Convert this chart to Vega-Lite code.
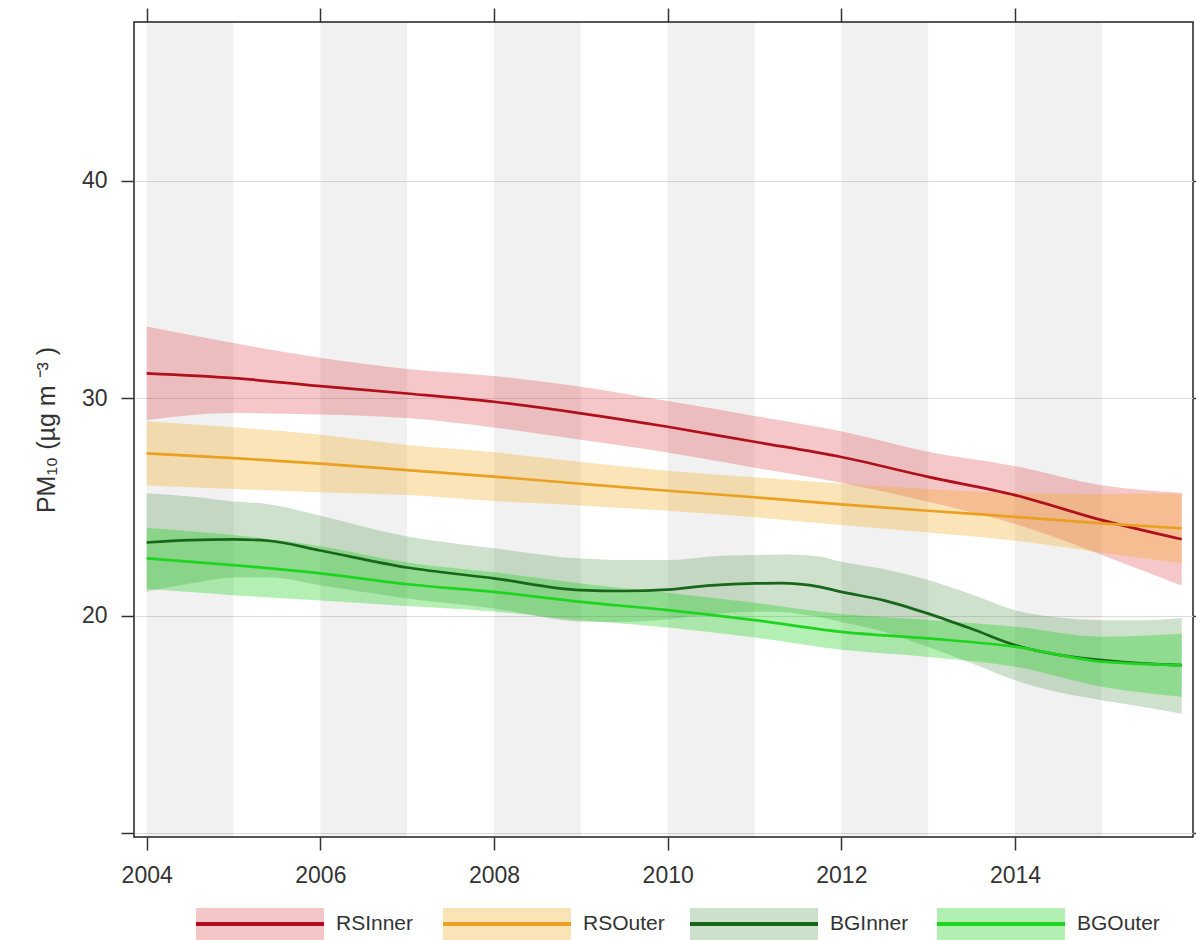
{
  "$schema": "https://vega.github.io/schema/vega-lite/v6.json",
  "width": 1059,
  "height": 815,
  "autosize": {"type": "none"},
  "padding": {"left": 134, "top": 22, "right": 3, "bottom": 103},
  "background": "white",
  "config": {
    "view": {"stroke": "#222222", "strokeWidth": 1.5},
    "font": "Liberation Sans",
    "axis": {"labelFont": "Liberation Sans", "titleFont": "Liberation Sans", "labelColor": "#333333", "titleColor": "#333333"},
    "legend": {"labelFont": "Liberation Sans"}
  },
  "datasets": {
    "bands": [
      {"start": 2004, "end": 2005},
      {"start": 2006, "end": 2007},
      {"start": 2008, "end": 2009},
      {"start": 2010, "end": 2011},
      {"start": 2012, "end": 2013},
      {"start": 2014, "end": 2015}
    ],
    "trend": [
      {"s": "RSInner", "year": 2004, "y": 31.15, "lo": 29.00, "hi": 33.30},
      {"s": "RSInner", "year": 2005, "y": 30.93, "lo": 29.32, "hi": 32.54},
      {"s": "RSInner", "year": 2006, "y": 30.56, "lo": 29.26, "hi": 31.86},
      {"s": "RSInner", "year": 2007, "y": 30.22, "lo": 29.09, "hi": 31.35},
      {"s": "RSInner", "year": 2008, "y": 29.84, "lo": 28.66, "hi": 31.02},
      {"s": "RSInner", "year": 2009, "y": 29.31, "lo": 28.09, "hi": 30.53},
      {"s": "RSInner", "year": 2010, "y": 28.69, "lo": 27.51, "hi": 29.87},
      {"s": "RSInner", "year": 2011, "y": 28.00, "lo": 26.81, "hi": 29.19},
      {"s": "RSInner", "year": 2012, "y": 27.30, "lo": 26.12, "hi": 28.48},
      {"s": "RSInner", "year": 2013, "y": 26.39, "lo": 25.24, "hi": 27.54},
      {"s": "RSInner", "year": 2014, "y": 25.55, "lo": 24.22, "hi": 26.88},
      {"s": "RSInner", "year": 2015, "y": 24.40, "lo": 22.80, "hi": 26.00},
      {"s": "RSInner", "year": 2015.92, "y": 23.52, "lo": 21.39, "hi": 25.65},

      {"s": "RSOuter", "year": 2004, "y": 27.47, "lo": 25.99, "hi": 28.95},
      {"s": "RSOuter", "year": 2005, "y": 27.25, "lo": 25.83, "hi": 28.67},
      {"s": "RSOuter", "year": 2006, "y": 27.00, "lo": 25.68, "hi": 28.32},
      {"s": "RSOuter", "year": 2007, "y": 26.70, "lo": 25.55, "hi": 27.85},
      {"s": "RSOuter", "year": 2008, "y": 26.40, "lo": 25.28, "hi": 27.52},
      {"s": "RSOuter", "year": 2009, "y": 26.07, "lo": 25.07, "hi": 27.07},
      {"s": "RSOuter", "year": 2010, "y": 25.75, "lo": 24.83, "hi": 26.67},
      {"s": "RSOuter", "year": 2011, "y": 25.45, "lo": 24.53, "hi": 26.37},
      {"s": "RSOuter", "year": 2012, "y": 25.12, "lo": 24.17, "hi": 26.07},
      {"s": "RSOuter", "year": 2013, "y": 24.83, "lo": 23.83, "hi": 25.83},
      {"s": "RSOuter", "year": 2014, "y": 24.55, "lo": 23.45, "hi": 25.65},
      {"s": "RSOuter", "year": 2015, "y": 24.25, "lo": 22.90, "hi": 25.60},
      {"s": "RSOuter", "year": 2015.92, "y": 24.02, "lo": 22.42, "hi": 25.62},

      {"s": "BGInner", "year": 2004, "y": 23.37, "lo": 21.11, "hi": 25.63},
      {"s": "BGInner", "year": 2004.5, "y": 23.48, "lo": 21.48, "hi": 25.48},
      {"s": "BGInner", "year": 2005, "y": 23.51, "lo": 21.76, "hi": 25.26},
      {"s": "BGInner", "year": 2005.4, "y": 23.45, "lo": 21.77, "hi": 25.13},
      {"s": "BGInner", "year": 2006, "y": 23.00, "lo": 21.40, "hi": 24.60},
      {"s": "BGInner", "year": 2007, "y": 22.22, "lo": 20.80, "hi": 23.64},
      {"s": "BGInner", "year": 2008, "y": 21.72, "lo": 20.34, "hi": 23.10},
      {"s": "BGInner", "year": 2009, "y": 21.18, "lo": 19.73, "hi": 22.63},
      {"s": "BGInner", "year": 2009.5, "y": 21.14, "lo": 19.72, "hi": 22.56},
      {"s": "BGInner", "year": 2010, "y": 21.20, "lo": 19.84, "hi": 22.56},
      {"s": "BGInner", "year": 2010.5, "y": 21.40, "lo": 20.07, "hi": 22.73},
      {"s": "BGInner", "year": 2011, "y": 21.49, "lo": 20.19, "hi": 22.79},
      {"s": "BGInner", "year": 2011.3, "y": 21.50, "lo": 20.18, "hi": 22.82},
      {"s": "BGInner", "year": 2011.75, "y": 21.33, "lo": 19.93, "hi": 22.73},
      {"s": "BGInner", "year": 2012, "y": 21.10, "lo": 19.72, "hi": 22.48},
      {"s": "BGInner", "year": 2012.5, "y": 20.70, "lo": 19.26, "hi": 22.14},
      {"s": "BGInner", "year": 2013, "y": 20.10, "lo": 18.56, "hi": 21.64},
      {"s": "BGInner", "year": 2013.5, "y": 19.40, "lo": 17.82, "hi": 20.98},
      {"s": "BGInner", "year": 2014, "y": 18.65, "lo": 17.04, "hi": 20.26},
      {"s": "BGInner", "year": 2014.5, "y": 18.20, "lo": 16.48, "hi": 19.92},
      {"s": "BGInner", "year": 2015, "y": 17.96, "lo": 16.12, "hi": 19.80},
      {"s": "BGInner", "year": 2015.5, "y": 17.80, "lo": 15.80, "hi": 19.80},
      {"s": "BGInner", "year": 2015.92, "y": 17.73, "lo": 15.50, "hi": 19.90},

      {"s": "BGOuter", "year": 2004, "y": 22.64, "lo": 21.24, "hi": 24.04},
      {"s": "BGOuter", "year": 2005, "y": 22.33, "lo": 20.95, "hi": 23.71},
      {"s": "BGOuter", "year": 2006, "y": 21.95, "lo": 20.70, "hi": 23.20},
      {"s": "BGOuter", "year": 2007, "y": 21.45, "lo": 20.45, "hi": 22.45},
      {"s": "BGOuter", "year": 2008, "y": 21.10, "lo": 20.20, "hi": 22.00},
      {"s": "BGOuter", "year": 2009, "y": 20.64, "lo": 19.79, "hi": 21.49},
      {"s": "BGOuter", "year": 2010, "y": 20.26, "lo": 19.46, "hi": 21.06},
      {"s": "BGOuter", "year": 2011, "y": 19.80, "lo": 19.00, "hi": 20.60},
      {"s": "BGOuter", "year": 2012, "y": 19.26, "lo": 18.44, "hi": 20.08},
      {"s": "BGOuter", "year": 2013, "y": 18.96, "lo": 18.11, "hi": 19.81},
      {"s": "BGOuter", "year": 2014, "y": 18.58, "lo": 17.66, "hi": 19.50},
      {"s": "BGOuter", "year": 2015, "y": 17.89, "lo": 16.74, "hi": 19.04},
      {"s": "BGOuter", "year": 2015.92, "y": 17.73, "lo": 16.28, "hi": 19.18}
    ]
  },
  "resolve": {"axis": {"x": "independent", "y": "independent"}, "legend": {"fill": "independent", "stroke": "independent"}},
  "layer": [
    {
      "data": {"name": "bands"},
      "mark": {"type": "rect", "color": "#000000", "opacity": 0.055},
      "encoding": {
        "x": {
          "field": "start", "type": "quantitative",
          "scale": {"domain": [2003.854, 2016.05], "nice": false, "zero": false},
          "axis": {
            "orient": "bottom", "values": [2004, 2006, 2008, 2010, 2012, 2014], "format": "d",
            "title": null, "grid": false, "domain": false,
            "ticks": true, "tickSize": 13, "tickWidth": 1.5, "tickColor": "#333333",
            "labelFontSize": 23, "labelPadding": 14, "labelFlush": false
          }
        },
        "x2": {"field": "end"}
      }
    },
    {
      "data": {"name": "trend"},
      "mark": {"type": "area", "opacity": 0.3, "interpolate": "monotone"},
      "encoding": {
        "x": {
          "field": "year", "type": "quantitative",
          "scale": {"domain": [2003.854, 2016.05], "nice": false, "zero": false},
          "axis": {
            "orient": "top", "values": [2004, 2006, 2008, 2010, 2012, 2014],
            "title": null, "grid": false, "domain": false, "labels": false,
            "ticks": true, "tickSize": 14, "tickWidth": 1.5, "tickColor": "#333333"
          }
        },
        "y": {
          "field": "lo", "type": "quantitative",
          "scale": {"domain": [9.83, 47.3], "nice": false, "zero": false},
          "axis": {
            "orient": "left", "values": [10, 20, 30, 40],
            "labelExpr": "datum.value == 10 ? '' : datum.label",
            "title": "PM₁₀ (µg m ⁻³ )", "titleFontSize": 25, "titleFontWeight": "normal", "titlePadding": 22,
            "grid": true, "gridColor": "#dcdcdc", "gridWidth": 1,
            "domain": false, "ticks": true, "tickSize": 13, "tickWidth": 1.5, "tickColor": "#333333",
            "labelFontSize": 23, "labelPadding": 14
          }
        },
        "y2": {"field": "hi"},
        "fill": {
          "field": "s", "type": "nominal",
          "scale": {"domain": ["RSInner", "RSOuter", "BGInner", "BGOuter"], "range": ["#e0454a", "#f5a516", "#589b58", "#05cd05"]},
          "legend": {
            "title": null, "orient": "none", "legendX": 60, "legendY": 836, "direction": "horizontal", "columns": 4,
            "gridAlign": "all", "columnPadding": 16, "padding": 0, "offset": 0,
            "symbolType": "M-1,-0.25H1V0.25H-1Z", "symbolSize": 16384, "symbolOpacity": 0.3,
            "symbolStrokeWidth": 4, "symbolStrokeColor": "transparent",
            "labelFontSize": 21, "labelOffset": 10, "labelOpacity": 0, "labelLimit": 200
          }
        }
      }
    },
    {
      "data": {"name": "trend"},
      "mark": {"type": "line", "strokeWidth": 2.7, "interpolate": "monotone"},
      "encoding": {
        "x": {"field": "year", "type": "quantitative", "axis": null},
        "y": {
          "field": "y", "type": "quantitative",
          "axis": {
            "orient": "right", "values": [10, 20, 30, 40], "labels": false, "title": null,
            "grid": false, "domain": false, "ticks": true, "tickSize": 6, "tickWidth": 1.5, "tickColor": "#333333"
          }
        },
        "stroke": {
          "field": "s", "type": "nominal",
          "scale": {"domain": ["RSInner", "RSOuter", "BGInner", "BGOuter"], "range": ["#b0101c", "#eaa020", "#17661a", "#1fd41f"]},
          "legend": {
            "title": null, "orient": "none", "legendX": 60, "legendY": 836, "direction": "horizontal", "columns": 4,
            "gridAlign": "all", "columnPadding": 16, "padding": 0, "offset": 0,
            "symbolType": "M-1,0H1", "symbolSize": 16384, "symbolStrokeWidth": 4, "symbolOpacity": 1,
            "labelFontSize": 21, "labelOffset": 10, "labelColor": "#333333", "labelLimit": 200
          }
        }
      }
    }
  ]
}
